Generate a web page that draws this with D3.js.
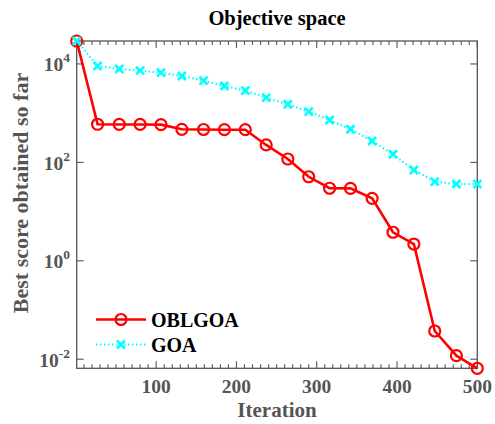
<!DOCTYPE html>
<html>
<head>
<meta charset="utf-8">
<script src="https://cdn.jsdelivr.net/npm/d3@7"></script>
<style>
  html, body { margin: 0; padding: 0; background: #fff; }
  svg { display: block; }
  text { font-family: "Liberation Serif", "Times New Roman", serif; font-weight: bold; }
</style>
</head>
<body>
<svg id="chart" width="495" height="424"></svg>
<script>
// Iterations at which the convergence curves are sampled
const iterations = [1, 27, 54, 80, 106, 132, 159, 185, 211, 237, 264, 290, 316, 342, 369, 395, 421, 447, 474, 500];
// Best score obtained so far for each algorithm
const oblgoaScores = [29300, 595, 590, 590, 585, 470, 466, 462, 462, 226, 117, 51, 29.8, 29.6, 18.6, 3.8, 2.19, 0.0374, 0.0118, 0.00653];
const goaScores = [29300, 9100, 7910, 7310, 6660, 5700, 4580, 3570, 2865, 2065, 1517, 1072, 728, 471, 272, 146, 70, 40.5, 36.4, 36.2];
const seriesNames = ["OBLGOA", "GOA"];
const xTickValues = [100, 200, 300, 400, 500];
const yTickExponents = [-2, 0, 2, 4];

const svg = d3.select("#chart");
const plotLeft = 76.7, plotRight = 477.3, plotTop = 41, plotBottom = 368.3;
const axisColor = "#555555";

const x = d3.scaleLinear().domain([1, 500]).range([plotLeft, plotRight]);
const y = d3.scaleLog()
  .domain([d3.min(oblgoaScores.concat(goaScores)), d3.max(oblgoaScores.concat(goaScores))])
  .range([plotBottom, plotTop]);

// Axes box
svg.append("rect")
  .attr("x", plotLeft).attr("y", plotTop)
  .attr("width", plotRight - plotLeft).attr("height", plotBottom - plotTop)
  .attr("fill", "none").attr("stroke", axisColor).attr("stroke-width", 1.3);

// X ticks (inward, on bottom and top), major every 100, minor every 10
const minor = d3.range(10, 500, 10).filter(v => v % 100 !== 0);
const tickG = svg.append("g").attr("stroke", axisColor).attr("stroke-width", 1.1);
minor.forEach(v => {
  tickG.append("line").attr("x1", x(v)).attr("x2", x(v)).attr("y1", plotBottom).attr("y2", plotBottom - 4);
  tickG.append("line").attr("x1", x(v)).attr("x2", x(v)).attr("y1", plotTop).attr("y2", plotTop + 4);
});
xTickValues.forEach(v => {
  tickG.append("line").attr("x1", x(v)).attr("x2", x(v)).attr("y1", plotBottom).attr("y2", plotBottom - 7);
  tickG.append("line").attr("x1", x(v)).attr("x2", x(v)).attr("y1", plotTop).attr("y2", plotTop + 7);
});
// Y ticks at decades (inward, left and right)
yTickExponents.forEach(e => {
  const yy = y(Math.pow(10, e));
  tickG.append("line").attr("x1", plotLeft).attr("x2", plotLeft + 7).attr("y1", yy).attr("y2", yy);
  tickG.append("line").attr("x1", plotRight).attr("x2", plotRight - 7).attr("y1", yy).attr("y2", yy);
});

// X tick labels
svg.append("g").selectAll("text").data(xTickValues).join("text")
  .attr("x", d => x(d)).attr("y", 393)
  .attr("text-anchor", "middle")
  .attr("font-size", 19.5).attr("fill", axisColor)
  .text(d => d);

// Y tick labels as 10 with superscript exponent
const yl = svg.append("g").selectAll("text").data(yTickExponents).join("text")
  .attr("x", 70).attr("y", d => y(Math.pow(10, d)) + 7.5)
  .attr("text-anchor", "end")
  .attr("font-size", 19.5).attr("fill", axisColor);
yl.append("tspan").text("10");
yl.append("tspan").attr("dy", -9).attr("font-size", 13.5).text(d => d);

// Axis labels and title
svg.append("text").attr("x", (plotLeft + plotRight) / 2).attr("y", 417)
  .attr("text-anchor", "middle").attr("font-size", 21).attr("fill", axisColor)
  .text("Iteration");
svg.append("text").attr("transform", "translate(28,193) rotate(-90)")
  .attr("text-anchor", "middle").attr("font-size", 22).attr("fill", axisColor)
  .text("Best score obtained so far");
svg.append("text").attr("x", (plotLeft + plotRight) / 2).attr("y", 25)
  .attr("text-anchor", "middle").attr("font-size", 20.5).attr("fill", "#000")
  .text("Objective space");

const line = d3.line().x(d => x(d[0])).y(d => y(d[1]));
const oblPts = iterations.map((t, i) => [t, oblgoaScores[i]]);
const goaPts = iterations.map((t, i) => [t, goaScores[i]]);

function crossPath(cx, cy, s) {
  return `M${cx - s},${cy - s}L${cx + s},${cy + s}M${cx - s},${cy + s}L${cx + s},${cy - s}`;
}

// OBLGOA: red solid line with circle markers
svg.append("path").datum(oblPts).attr("d", line)
  .attr("fill", "none").attr("stroke", "#ff0000").attr("stroke-width", 2.6);
svg.append("g").selectAll("circle").data(oblPts).join("circle")
  .attr("cx", d => x(d[0])).attr("cy", d => y(d[1])).attr("r", 5.5)
  .attr("fill", "none").attr("stroke", "#ff0000").attr("stroke-width", 2.2);

// GOA: cyan dotted line with x markers
svg.append("path").datum(goaPts).attr("d", line)
  .attr("fill", "none").attr("stroke", "#00ffff").attr("stroke-width", 2.2)
  .attr("stroke-dasharray", "1.5,2.5");
svg.append("g").selectAll("path").data(goaPts).join("path")
  .attr("d", d => crossPath(x(d[0]), y(d[1]), 4))
  .attr("fill", "none").attr("stroke", "#00ffff").attr("stroke-width", 2.6);

// Legend
const lg = svg.append("g");
const legendRows = [
  { name: seriesNames[0], y: 319.5 },
  { name: seriesNames[1], y: 344.5 }
];
lg.append("line").attr("x1", 96).attr("x2", 146).attr("y1", legendRows[0].y).attr("y2", legendRows[0].y)
  .attr("stroke", "#ff0000").attr("stroke-width", 2.6);
lg.append("circle").attr("cx", 121).attr("cy", legendRows[0].y).attr("r", 5.5)
  .attr("fill", "none").attr("stroke", "#ff0000").attr("stroke-width", 2.2);
lg.append("line").attr("x1", 96).attr("x2", 146).attr("y1", legendRows[1].y).attr("y2", legendRows[1].y)
  .attr("stroke", "#00ffff").attr("stroke-width", 2.2).attr("stroke-dasharray", "1.5,2.5");
lg.append("path").attr("d", crossPath(121, legendRows[1].y, 4))
  .attr("fill", "none").attr("stroke", "#00ffff").attr("stroke-width", 2.6);
lg.selectAll("text").data(legendRows).join("text")
  .attr("x", 151).attr("y", d => d.y + 7)
  .attr("font-size", 20).attr("fill", "#000")
  .text(d => d.name);
</script>
</body>
</html>
